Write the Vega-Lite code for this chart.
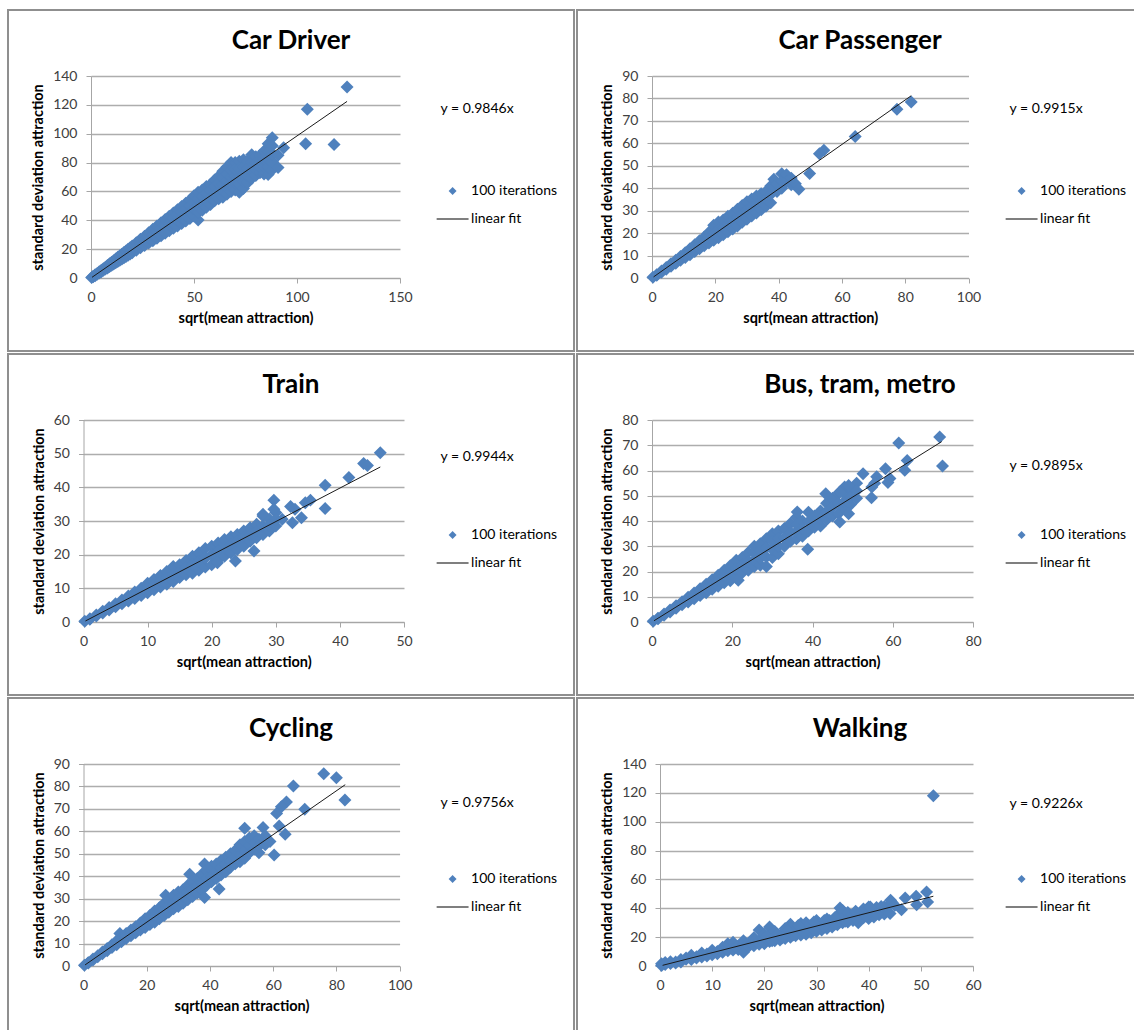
{
"$schema": "https://vega.github.io/schema/vega-lite/v6.json",
"padding": {"left": 7, "top": 9, "right": 0, "bottom": 0},
"background": "white",
"columns": 2,
"spacing": 1,
"datasets": {
"cd": [{"x":0.3,"y":0.3},{"x":1,"y":1},{"x":1,"y":0.8},{"x":2,"y":1.6},{"x":2,"y":2.2},{"x":3,"y":2.6},{"x":3,"y":3.2},{"x":4,"y":3.5},{"x":4,"y":4.3},{"x":5,"y":4.4},{"x":5,"y":5.4},{"x":6,"y":5.3},{"x":6,"y":6.4},{"x":7,"y":6.2},{"x":7,"y":7.5},{"x":8,"y":7},{"x":8,"y":8.6},{"x":9,"y":7.9},{"x":9,"y":9.8},{"x":10,"y":8.8},{"x":10,"y":10.9},{"x":11,"y":9.7},{"x":11,"y":12},{"x":12,"y":10.6},{"x":12,"y":13.2},{"x":13,"y":11.5},{"x":13,"y":14.3},{"x":14,"y":12.3},{"x":14,"y":15.4},{"x":15,"y":13.2},{"x":15,"y":16.5},{"x":16,"y":14},{"x":16,"y":17.6},{"x":17,"y":14.9},{"x":17,"y":18.8},{"x":18,"y":15.8},{"x":18,"y":19.9},{"x":19,"y":16.6},{"x":19,"y":21},{"x":20,"y":17.5},{"x":20,"y":22.2},{"x":20,"y":19.8},{"x":22,"y":19.2},{"x":22,"y":24.5},{"x":22,"y":21.8},{"x":24,"y":20.9},{"x":24,"y":26.8},{"x":24,"y":23.8},{"x":26,"y":22.6},{"x":26,"y":29},{"x":26,"y":25.8},{"x":28,"y":24.3},{"x":28,"y":31.4},{"x":28,"y":27.8},{"x":30,"y":25.9},{"x":30,"y":33.8},{"x":30,"y":29.8},{"x":32,"y":27.5},{"x":32,"y":36},{"x":32,"y":31.7},{"x":34,"y":29.3},{"x":34,"y":38.3},{"x":34,"y":33.8},{"x":36,"y":31},{"x":36,"y":40.6},{"x":36,"y":35.8},{"x":38,"y":32.7},{"x":38,"y":42.8},{"x":38,"y":37.7},{"x":40,"y":34.4},{"x":40,"y":45.1},{"x":40,"y":38},{"x":40,"y":41.5},{"x":42,"y":36},{"x":42,"y":47.3},{"x":42,"y":40},{"x":42,"y":43.6},{"x":44,"y":37.8},{"x":44,"y":49.5},{"x":44,"y":41.8},{"x":44,"y":45.6},{"x":46,"y":39.5},{"x":46,"y":51.8},{"x":46,"y":43.6},{"x":46,"y":47.7},{"x":48,"y":41.2},{"x":48,"y":54},{"x":48,"y":45.5},{"x":48,"y":49.8},{"x":50,"y":43},{"x":50,"y":57},{"x":50,"y":47.7},{"x":50,"y":52.3},{"x":52,"y":40.2},{"x":52,"y":59.5},{"x":52,"y":45.5},{"x":52,"y":50.5},{"x":52,"y":55},{"x":54,"y":47},{"x":54,"y":61},{"x":54,"y":51.7},{"x":54,"y":56.4},{"x":56,"y":49},{"x":56,"y":63.5},{"x":56,"y":53.8},{"x":56,"y":58.7},{"x":58,"y":51},{"x":58,"y":65},{"x":58,"y":55.7},{"x":58,"y":60.4},{"x":60,"y":53.5},{"x":60,"y":68},{"x":60,"y":58.3},{"x":60,"y":63.2},{"x":62,"y":55},{"x":62,"y":70.5},{"x":62,"y":60.2},{"x":62,"y":65.4},{"x":64,"y":56},{"x":64,"y":74},{"x":64,"y":60.5},{"x":64,"y":65},{"x":64,"y":69.5},{"x":66,"y":58},{"x":66,"y":77},{"x":66,"y":62.7},{"x":66,"y":67.5},{"x":66,"y":72.3},{"x":68,"y":60},{"x":68,"y":80},{"x":68,"y":65},{"x":68,"y":70},{"x":68,"y":75},{"x":70,"y":61},{"x":70,"y":80},{"x":70,"y":65.8},{"x":70,"y":70.5},{"x":70,"y":75.3},{"x":72,"y":59.5},{"x":72,"y":81},{"x":72,"y":64.9},{"x":72,"y":70.3},{"x":72,"y":75.7},{"x":74,"y":62},{"x":74,"y":82},{"x":74,"y":67},{"x":74,"y":72},{"x":74,"y":77},{"x":76,"y":66},{"x":76,"y":81},{"x":76,"y":71},{"x":76,"y":76},{"x":78,"y":69},{"x":78,"y":85.5},{"x":78,"y":74.5},{"x":78,"y":80},{"x":80,"y":71},{"x":80,"y":84},{"x":80,"y":75.3},{"x":80,"y":79.7},{"x":82,"y":73},{"x":82,"y":85},{"x":82,"y":77},{"x":82,"y":81},{"x":84,"y":72},{"x":84,"y":88},{"x":84,"y":77.3},{"x":84,"y":82.7},{"x":86,"y":71.8},{"x":86,"y":93},{"x":86,"y":77},{"x":86,"y":82.4},{"x":86,"y":87.7},{"x":88,"y":75},{"x":88,"y":97.2},{"x":88,"y":80.5},{"x":88,"y":86},{"x":88,"y":91.6},{"x":90.8,"y":76.5},{"x":90.8,"y":85},{"x":93.5,"y":90.3},{"x":104.2,"y":93.1},{"x":105,"y":116.9},{"x":118,"y":92.6},{"x":124.3,"y":132.4}],
"cd_fit": [{"x":0.5,"y":0.49},{"x":124.3,"y":122.39}],
"cp": [{"x":0.3,"y":0.3},{"x":1.5,"y":1.5},{"x":1.5,"y":1.2},{"x":3,"y":3.1},{"x":3,"y":2.6},{"x":4.5,"y":4.7},{"x":4.5,"y":3.9},{"x":6,"y":6.3},{"x":6,"y":5.2},{"x":7.5,"y":7.9},{"x":7.5,"y":6.6},{"x":9,"y":9.6},{"x":9,"y":7.9},{"x":9,"y":8.8},{"x":10.5,"y":11.3},{"x":10.5,"y":9.1},{"x":10.5,"y":10.2},{"x":12,"y":13},{"x":12,"y":10.4},{"x":12,"y":11.7},{"x":13.5,"y":14.8},{"x":13.5,"y":11.8},{"x":13.5,"y":13.3},{"x":15,"y":16.6},{"x":15,"y":13},{"x":15,"y":14.8},{"x":16.5,"y":18.3},{"x":16.5,"y":14.4},{"x":16.5,"y":16.3},{"x":18,"y":20.4},{"x":18,"y":15.6},{"x":18,"y":18},{"x":19.5,"y":23.5},{"x":19.5,"y":16.8},{"x":19.5,"y":20.1},{"x":21,"y":25},{"x":21,"y":17.9},{"x":21,"y":21.4},{"x":22.5,"y":25.8},{"x":22.5,"y":19.3},{"x":22.5,"y":22.5},{"x":24,"y":27.5},{"x":24,"y":20.6},{"x":24,"y":24},{"x":25.5,"y":28.8},{"x":25.5,"y":21.8},{"x":25.5,"y":25.3},{"x":27,"y":30.6},{"x":27,"y":23.2},{"x":27,"y":26.9},{"x":28.5,"y":32.3},{"x":28.5,"y":24.8},{"x":28.5,"y":28.5},{"x":30,"y":34},{"x":30,"y":26.2},{"x":30,"y":30.1},{"x":31.5,"y":35.2},{"x":31.5,"y":27.6},{"x":31.5,"y":31.4},{"x":33,"y":36.5},{"x":33,"y":29},{"x":33,"y":32.7},{"x":34.5,"y":37.5},{"x":34.5,"y":30.4},{"x":34.5,"y":34},{"x":36,"y":38.5},{"x":36,"y":32},{"x":36,"y":35.3},{"x":37.5,"y":41},{"x":37.5,"y":33.5},{"x":37.5,"y":37.2},{"x":38.5,"y":44},{"x":38.5,"y":40.5},{"x":39.5,"y":38.5},{"x":39.5,"y":42},{"x":41,"y":46.5},{"x":41,"y":40},{"x":41,"y":43.2},{"x":42.5,"y":46},{"x":42.5,"y":43},{"x":44,"y":44.5},{"x":44,"y":41.5},{"x":45.3,"y":42},{"x":46.4,"y":39.5},{"x":49.8,"y":46.6},{"x":52.9,"y":55.4},{"x":54.3,"y":56.9},{"x":64.2,"y":63},{"x":77.4,"y":75.2},{"x":81.9,"y":78.4}],
"cp_fit": [{"x":0.5,"y":0.5},{"x":81.9,"y":81.2}],
"tr": [{"x":0.2,"y":0.2},{"x":1,"y":1},{"x":1,"y":0.8},{"x":2,"y":2.1},{"x":2,"y":1.8},{"x":3,"y":3.2},{"x":3,"y":2.7},{"x":4,"y":4.3},{"x":4,"y":3.6},{"x":5,"y":5.4},{"x":5,"y":4.5},{"x":6,"y":6.5},{"x":6,"y":5.4},{"x":6,"y":6},{"x":7,"y":7.7},{"x":7,"y":6.2},{"x":7,"y":7},{"x":8,"y":8.9},{"x":8,"y":7},{"x":8,"y":8},{"x":9,"y":10},{"x":9,"y":7.9},{"x":9,"y":9},{"x":10,"y":11.5},{"x":10,"y":8.7},{"x":10,"y":10},{"x":11,"y":12.6},{"x":11,"y":9.6},{"x":11,"y":11},{"x":12,"y":13.8},{"x":12,"y":10.4},{"x":12,"y":12},{"x":13,"y":15},{"x":13,"y":11.2},{"x":13,"y":13},{"x":14,"y":16.5},{"x":14,"y":12},{"x":14,"y":14.2},{"x":15,"y":17},{"x":15,"y":13.2},{"x":15,"y":15},{"x":16,"y":18.3},{"x":16,"y":14},{"x":16,"y":16},{"x":17,"y":19.5},{"x":17,"y":14.5},{"x":17,"y":17},{"x":18,"y":20.6},{"x":18,"y":15.4},{"x":18,"y":18},{"x":19,"y":21.8},{"x":19,"y":16.3},{"x":19,"y":19},{"x":20,"y":22.5},{"x":20,"y":17},{"x":20,"y":20},{"x":21,"y":23.5},{"x":21,"y":18.5},{"x":21,"y":21},{"x":22,"y":24.5},{"x":22,"y":19.5},{"x":22,"y":22},{"x":23,"y":25.3},{"x":23,"y":20.5},{"x":23,"y":23},{"x":24,"y":26},{"x":24,"y":21.5},{"x":24,"y":24},{"x":25,"y":27},{"x":25,"y":22.5},{"x":25,"y":25},{"x":26,"y":28},{"x":26,"y":24},{"x":26,"y":26},{"x":27,"y":29},{"x":27,"y":25},{"x":27,"y":27},{"x":28,"y":31.5},{"x":28,"y":26},{"x":28,"y":28.5},{"x":29,"y":30.5},{"x":29,"y":27},{"x":29,"y":28.8},{"x":30,"y":32.5},{"x":30,"y":28.5},{"x":30,"y":30.5},{"x":26.6,"y":21.1},{"x":23.7,"y":18.1},{"x":20.9,"y":17.6},{"x":28,"y":32},{"x":29.7,"y":36.2},{"x":29.7,"y":33.5},{"x":32.3,"y":34.3},{"x":32.6,"y":29.5},{"x":34,"y":31},{"x":34.6,"y":35.4},{"x":35.4,"y":36.2},{"x":37.7,"y":33.7},{"x":37.7,"y":40.6},{"x":41.4,"y":42.9},{"x":43.7,"y":47.1},{"x":44.3,"y":46.5},{"x":46.3,"y":50.3},{"x":33,"y":33.5},{"x":31,"y":30.5}],
"tr_fit": [{"x":0.3,"y":0.3},{"x":46.3,"y":46.04}],
"bu": [{"x":0.3,"y":0.3},{"x":1.5,"y":1.5},{"x":1.5,"y":1.3},{"x":3,"y":3.2},{"x":3,"y":2.7},{"x":4.5,"y":4.8},{"x":4.5,"y":4},{"x":6,"y":6.4},{"x":6,"y":5.4},{"x":7.5,"y":8},{"x":7.5,"y":6.8},{"x":9,"y":9.8},{"x":9,"y":7.9},{"x":9,"y":8.9},{"x":10.5,"y":11.5},{"x":10.5,"y":9.2},{"x":10.5,"y":10.4},{"x":12,"y":13.2},{"x":12,"y":10.5},{"x":12,"y":11.9},{"x":13.5,"y":15},{"x":13.5,"y":11.6},{"x":13.5,"y":13.3},{"x":15,"y":16.7},{"x":15,"y":13},{"x":15,"y":14.9},{"x":16.5,"y":18.5},{"x":16.5,"y":14.2},{"x":16.5,"y":16.4},{"x":18,"y":20.5},{"x":18,"y":15.5},{"x":18,"y":18},{"x":19.5,"y":22.3},{"x":19.5,"y":16.3},{"x":19.5,"y":19.3},{"x":21,"y":24.5},{"x":21,"y":17.5},{"x":21,"y":21},{"x":21.5,"y":16.5},{"x":22.5,"y":25.5},{"x":22.5,"y":19.5},{"x":22.5,"y":22.5},{"x":24,"y":27.5},{"x":24,"y":20.5},{"x":24,"y":24},{"x":25.5,"y":30},{"x":25.5,"y":22},{"x":25.5,"y":24.7},{"x":25.5,"y":27.4},{"x":27,"y":31},{"x":27,"y":22.5},{"x":27,"y":25.3},{"x":27,"y":28.2},{"x":28.5,"y":33},{"x":28.5,"y":22},{"x":28.5,"y":25.7},{"x":28.5,"y":29.4},{"x":30,"y":35},{"x":30,"y":25.5},{"x":30,"y":28.7},{"x":30,"y":31.9},{"x":31.5,"y":36},{"x":31.5,"y":27},{"x":31.5,"y":30},{"x":31.5,"y":33},{"x":33,"y":37},{"x":33,"y":30},{"x":33,"y":33.5},{"x":34.5,"y":39},{"x":34.5,"y":32},{"x":34.5,"y":35.5},{"x":36,"y":41.5},{"x":36,"y":33},{"x":36,"y":35.8},{"x":36,"y":38.7},{"x":37.5,"y":40},{"x":37.5,"y":34},{"x":37.5,"y":37},{"x":39,"y":43.5},{"x":39,"y":36},{"x":39,"y":39.7},{"x":40.5,"y":42},{"x":40.5,"y":37.5},{"x":40.5,"y":39.8},{"x":42,"y":44},{"x":42,"y":38},{"x":42,"y":41},{"x":43.5,"y":47},{"x":43.5,"y":40.5},{"x":43.5,"y":43.7},{"x":45,"y":49},{"x":45,"y":42},{"x":45,"y":45.5},{"x":46.5,"y":51},{"x":46.5,"y":43},{"x":46.5,"y":47},{"x":48,"y":53.5},{"x":48,"y":45},{"x":48,"y":47.8},{"x":48,"y":50.6},{"x":49.5,"y":52.5},{"x":49.5,"y":46.5},{"x":49.5,"y":49.5},{"x":51,"y":55},{"x":51,"y":49},{"x":51,"y":52},{"x":71.7,"y":73.3},{"x":72.4,"y":61.8},{"x":61.5,"y":70.9},{"x":63.6,"y":64},{"x":63,"y":60.1},{"x":58.2,"y":60.7},{"x":59.3,"y":56.8},{"x":58.8,"y":55.2},{"x":52.6,"y":58.7},{"x":54.7,"y":49.2},{"x":54.8,"y":53.5},{"x":49,"y":54.1},{"x":49,"y":42.9},{"x":46.8,"y":39.6},{"x":38.8,"y":28.8},{"x":46.8,"y":51.5},{"x":43.3,"y":50.8},{"x":36.2,"y":43.6},{"x":56,"y":57.5},{"x":55.5,"y":55}],
"bu_fit": [{"x":0.5,"y":0.49},{"x":72.2,"y":71.44}],
"cy": [{"x":0.3,"y":0.3},{"x":1.5,"y":1.5},{"x":1.5,"y":1.3},{"x":3,"y":3.1},{"x":3,"y":2.7},{"x":4.5,"y":4.6},{"x":4.5,"y":4.1},{"x":6,"y":6.2},{"x":6,"y":5.5},{"x":7.5,"y":7.8},{"x":7.5,"y":6.8},{"x":9,"y":9.5},{"x":9,"y":8.2},{"x":9,"y":8.9},{"x":10.5,"y":11.3},{"x":10.5,"y":9.5},{"x":10.5,"y":10.3},{"x":11.5,"y":14.5},{"x":12,"y":12.8},{"x":12,"y":10.8},{"x":12,"y":11.8},{"x":13.5,"y":14.5},{"x":13.5,"y":12.3},{"x":13.5,"y":13.2},{"x":15,"y":16},{"x":15,"y":13.5},{"x":15,"y":14.7},{"x":16.5,"y":17.5},{"x":16.5,"y":14.8},{"x":16.5,"y":16.2},{"x":18,"y":19.2},{"x":18,"y":16},{"x":18,"y":17.6},{"x":19.5,"y":21},{"x":19.5,"y":17.2},{"x":19.5,"y":19},{"x":21,"y":22.5},{"x":21,"y":18.5},{"x":21,"y":20.5},{"x":22.5,"y":24.5},{"x":22.5,"y":19.5},{"x":22.5,"y":22},{"x":24,"y":26},{"x":24,"y":21},{"x":24,"y":23.5},{"x":25.5,"y":28},{"x":25.5,"y":22.5},{"x":25.5,"y":25},{"x":26,"y":31.5},{"x":27,"y":29.5},{"x":27,"y":24},{"x":27,"y":26.7},{"x":28.5,"y":31.5},{"x":28.5,"y":25.5},{"x":28.5,"y":28},{"x":30,"y":33},{"x":30,"y":26.5},{"x":30,"y":29.7},{"x":31.5,"y":34},{"x":31.5,"y":28},{"x":31.5,"y":31},{"x":33,"y":36},{"x":33,"y":29.5},{"x":33,"y":32.7},{"x":33.6,"y":40.9},{"x":34.5,"y":37.5},{"x":34.5,"y":31},{"x":34.5,"y":34},{"x":36,"y":39},{"x":36,"y":32.5},{"x":36,"y":35.7},{"x":37.5,"y":41},{"x":37.5,"y":34},{"x":37.5,"y":37},{"x":38.3,"y":45.4},{"x":38.3,"y":30.5},{"x":39,"y":42.5},{"x":39,"y":36},{"x":39,"y":39.2},{"x":40.5,"y":44.5},{"x":40.5,"y":37.5},{"x":40.5,"y":40},{"x":42,"y":45.5},{"x":42,"y":39},{"x":42,"y":42.2},{"x":42.9,"y":34.3},{"x":43.5,"y":47},{"x":43.5,"y":40.5},{"x":43.5,"y":43.5},{"x":45,"y":48.5},{"x":45,"y":42},{"x":45,"y":45.2},{"x":46.5,"y":50},{"x":46.5,"y":44},{"x":46.5,"y":46.5},{"x":48,"y":51.5},{"x":48,"y":45.5},{"x":48,"y":48.5},{"x":49.5,"y":54},{"x":49.5,"y":46.5},{"x":49.5,"y":49.5},{"x":51,"y":61.4},{"x":51,"y":55.5},{"x":51,"y":48},{"x":51,"y":51.5},{"x":52.5,"y":57},{"x":52.5,"y":50.5},{"x":52.5,"y":53.7},{"x":54,"y":58},{"x":54,"y":52},{"x":54,"y":55},{"x":55.5,"y":56.5},{"x":55.5,"y":50.5},{"x":55.5,"y":53.5},{"x":56.8,"y":61.7},{"x":57.5,"y":58},{"x":57.5,"y":54},{"x":76,"y":85.7},{"x":80,"y":83.9},{"x":82.7,"y":74},{"x":66.4,"y":80.2},{"x":70,"y":69.8},{"x":64.2,"y":73.1},{"x":62.6,"y":71},{"x":61.1,"y":68},{"x":61.9,"y":62.4},{"x":63.8,"y":58.7},{"x":60.3,"y":49.5},{"x":59,"y":55.5}],
"cy_fit": [{"x":0.5,"y":0.49},{"x":82.8,"y":80.78}],
"wa": [{"x":0.3,"y":0.3},{"x":0.3,"y":1.5},{"x":1,"y":1},{"x":1,"y":2.5},{"x":2,"y":1.8},{"x":2,"y":3},{"x":3,"y":2.8},{"x":3,"y":2},{"x":4,"y":3.7},{"x":4,"y":4.5},{"x":4,"y":2.8},{"x":5,"y":4.6},{"x":5,"y":5.5},{"x":6,"y":5.5},{"x":6,"y":7.5},{"x":6,"y":4.5},{"x":7,"y":6.5},{"x":7,"y":5.5},{"x":8,"y":7.4},{"x":8,"y":9},{"x":8,"y":6.3},{"x":9,"y":8.3},{"x":9,"y":7},{"x":10,"y":9.2},{"x":10,"y":11},{"x":10,"y":7.8},{"x":11,"y":10.1},{"x":11,"y":8.5},{"x":12,"y":11.1},{"x":12,"y":13},{"x":12,"y":9.5},{"x":13,"y":12},{"x":13,"y":15.5},{"x":13,"y":10.5},{"x":14,"y":12.9},{"x":14,"y":16.5},{"x":14,"y":11},{"x":15,"y":13.8},{"x":15,"y":11.5},{"x":16,"y":14.8},{"x":16,"y":17.5},{"x":16,"y":9.5},{"x":17,"y":15.7},{"x":17,"y":13.5},{"x":18,"y":16.6},{"x":18,"y":19.5},{"x":18,"y":14},{"x":19,"y":17.5},{"x":19,"y":25},{"x":19,"y":15},{"x":20,"y":18.5},{"x":20,"y":22},{"x":20,"y":15.5},{"x":21,"y":19.4},{"x":21,"y":27},{"x":21,"y":17},{"x":22,"y":20.3},{"x":22,"y":24},{"x":22,"y":17.5},{"x":23,"y":21.2},{"x":23,"y":18},{"x":24,"y":22.1},{"x":24,"y":26},{"x":24,"y":19},{"x":25,"y":23},{"x":25,"y":29},{"x":25,"y":20},{"x":26,"y":24},{"x":26,"y":21},{"x":27,"y":24.9},{"x":27,"y":29.5},{"x":27,"y":21.5},{"x":28,"y":25.8},{"x":28,"y":30},{"x":28,"y":22},{"x":29,"y":26.8},{"x":29,"y":23},{"x":30,"y":27.7},{"x":30,"y":31.5},{"x":30,"y":24},{"x":31,"y":28.6},{"x":31,"y":25},{"x":32,"y":29.5},{"x":32,"y":32.5},{"x":32,"y":26},{"x":33,"y":30.4},{"x":33,"y":27},{"x":34,"y":31.4},{"x":34,"y":35},{"x":34,"y":28.5},{"x":35,"y":32.3},{"x":35,"y":38.5},{"x":35,"y":30},{"x":36,"y":33.2},{"x":36,"y":37},{"x":36,"y":30.5},{"x":37,"y":34.1},{"x":37,"y":31.5},{"x":38,"y":35.1},{"x":38,"y":30},{"x":39,"y":36},{"x":39,"y":39.5},{"x":39,"y":33.5},{"x":40,"y":36.9},{"x":40,"y":40.9},{"x":40,"y":33},{"x":41,"y":37.8},{"x":41,"y":34},{"x":42,"y":38.7},{"x":42,"y":35.5},{"x":43,"y":39.7},{"x":43,"y":41},{"x":43,"y":36},{"x":20.5,"y":20.5},{"x":22.5,"y":22},{"x":24.5,"y":24.5},{"x":26.5,"y":26.5},{"x":28.5,"y":28},{"x":30.5,"y":29.5},{"x":32.5,"y":31.5},{"x":34.5,"y":33.5},{"x":36.5,"y":35},{"x":38.5,"y":36.5},{"x":40.5,"y":38},{"x":42.5,"y":39.5},{"x":21.5,"y":17.5},{"x":23.5,"y":19.5},{"x":25.5,"y":21.5},{"x":27.5,"y":23.5},{"x":29.5,"y":25},{"x":31.5,"y":27},{"x":33.5,"y":29},{"x":35.5,"y":31},{"x":37.5,"y":32.5},{"x":39.5,"y":34.5},{"x":41.5,"y":36},{"x":26.5,"y":28},{"x":29.5,"y":30.5},{"x":31.5,"y":31.5},{"x":33.5,"y":33.5},{"x":37.5,"y":38},{"x":41.5,"y":40.5},{"x":44.5,"y":44},{"x":52.4,"y":118},{"x":51.1,"y":51.3},{"x":51.3,"y":44.4},{"x":49.2,"y":42.5},{"x":49.1,"y":48.3},{"x":47,"y":47.1},{"x":46.3,"y":39},{"x":44.2,"y":45.5},{"x":44.1,"y":36.3},{"x":42.4,"y":41.3},{"x":40.3,"y":40.9},{"x":34.5,"y":40.2},{"x":45,"y":42}],
"wa_fit": [{"x":0.5,"y":0.46},{"x":52.4,"y":48.34}]
},
"concat": [
{"width": 566, "height": 341, "title": {"text": "Car Driver", "offset": -44},
 "encoding": {
  "x": {"field": "x", "type": "quantitative", "scale": {"domain": [0,150], "range": [83,392], "nice": false}, "axis": {"values": [0,50,100,150], "offset": -73, "title": "sqrt(mean attraction)"}},
  "y": {"field": "y", "type": "quantitative", "scale": {"domain": [0,140], "range": [268,66], "nice": false}, "axis": {"values": [0,20,40,60,80,100,120,140], "offset": -83, "title": "standard deviation attraction"}}},
 "layer": [
  {"data": {"name": "cd"}, "mark": {"type": "point", "filled": true, "size": 1550, "opacity": 1},
   "encoding": {
    "color": {"datum": "100 iterations", "scale": {"domain": ["100 iterations","linear fit"], "range": ["#4F81BD","#000000"]}, "legend": {"title": "y = 0.9846x", "legendX": 432.6, "legendY": 92, "titlePadding": 63}},
    "shape": {"datum": "100 iterations", "scale": {"domain": ["100 iterations","linear fit"], "range": ["M-0.33,0L0,-0.33L0.33,0L0,0.33Z","M-1.33,-0.045H1.33V0.045H-1.33Z"]}, "legend": {"title": "y = 0.9846x", "legendX": 432.6, "legendY": 92, "titlePadding": 63}}}},
  {"data": {"name": "cd_fit"}, "mark": {"type": "line", "color": "#1a1a1a", "strokeWidth": 1}, "encoding": {}}
 ]},
{"width": 566, "height": 341, "title": {"text": "Car Passenger", "offset": -44},
 "encoding": {
  "x": {"field": "x", "type": "quantitative", "scale": {"domain": [0,100], "range": [75,391.5], "nice": false}, "axis": {"values": [0,20,40,60,80,100], "offset": -73, "title": "sqrt(mean attraction)"}},
  "y": {"field": "y", "type": "quantitative", "scale": {"domain": [0,90], "range": [268,66], "nice": false}, "axis": {"values": [0,10,20,30,40,50,60,70,80,90], "offset": -75, "title": "standard deviation attraction"}}},
 "layer": [
  {"data": {"name": "cp"}, "mark": {"type": "point", "filled": true, "size": 1550, "opacity": 1},
   "encoding": {
    "color": {"datum": "100 iterations", "scale": {"domain": ["100 iterations","linear fit"], "range": ["#4F81BD","#000000"]}, "legend": {"title": "y = 0.9915x", "legendX": 432.6, "legendY": 92, "titlePadding": 63}},
    "shape": {"datum": "100 iterations", "scale": {"domain": ["100 iterations","linear fit"], "range": ["M-0.33,0L0,-0.33L0.33,0L0,0.33Z","M-1.33,-0.045H1.33V0.045H-1.33Z"]}, "legend": {"title": "y = 0.9915x", "legendX": 432.6, "legendY": 92, "titlePadding": 63}}}},
  {"data": {"name": "cp_fit"}, "mark": {"type": "line", "color": "#1a1a1a", "strokeWidth": 1}, "encoding": {}}
 ]},
{"width": 566, "height": 341, "title": {"text": "Train", "offset": -44},
 "encoding": {
  "x": {"field": "x", "type": "quantitative", "scale": {"domain": [0,50], "range": [75.5,396], "nice": false}, "axis": {"values": [0,10,20,30,40,50], "offset": -73, "title": "sqrt(mean attraction)"}},
  "y": {"field": "y", "type": "quantitative", "scale": {"domain": [0,60], "range": [268,66], "nice": false}, "axis": {"values": [0,10,20,30,40,50,60], "offset": -75.5, "title": "standard deviation attraction"}}},
 "layer": [
  {"data": {"name": "tr"}, "mark": {"type": "point", "filled": true, "size": 1550, "opacity": 1},
   "encoding": {
    "color": {"datum": "100 iterations", "scale": {"domain": ["100 iterations","linear fit"], "range": ["#4F81BD","#000000"]}, "legend": {"title": "y = 0.9944x", "legendX": 432.6, "legendY": 96, "titlePadding": 59}},
    "shape": {"datum": "100 iterations", "scale": {"domain": ["100 iterations","linear fit"], "range": ["M-0.33,0L0,-0.33L0.33,0L0,0.33Z","M-1.33,-0.045H1.33V0.045H-1.33Z"]}, "legend": {"title": "y = 0.9944x", "legendX": 432.6, "legendY": 96, "titlePadding": 59}}}},
  {"data": {"name": "tr_fit"}, "mark": {"type": "line", "color": "#1a1a1a", "strokeWidth": 1}, "encoding": {}}
 ]},
{"width": 566, "height": 341, "title": {"text": "Bus, tram, metro", "offset": -44},
 "encoding": {
  "x": {"field": "x", "type": "quantitative", "scale": {"domain": [0,80], "range": [75,396], "nice": false}, "axis": {"values": [0,20,40,60,80], "offset": -73, "title": "sqrt(mean attraction)"}},
  "y": {"field": "y", "type": "quantitative", "scale": {"domain": [0,80], "range": [268,66], "nice": false}, "axis": {"values": [0,10,20,30,40,50,60,70,80], "offset": -75, "title": "standard deviation attraction"}}},
 "layer": [
  {"data": {"name": "bu"}, "mark": {"type": "point", "filled": true, "size": 1550, "opacity": 1},
   "encoding": {
    "color": {"datum": "100 iterations", "scale": {"domain": ["100 iterations","linear fit"], "range": ["#4F81BD","#000000"]}, "legend": {"title": "y = 0.9895x", "legendX": 432.6, "legendY": 105, "titlePadding": 50}},
    "shape": {"datum": "100 iterations", "scale": {"domain": ["100 iterations","linear fit"], "range": ["M-0.33,0L0,-0.33L0.33,0L0,0.33Z","M-1.33,-0.045H1.33V0.045H-1.33Z"]}, "legend": {"title": "y = 0.9895x", "legendX": 432.6, "legendY": 105, "titlePadding": 50}}}},
  {"data": {"name": "bu_fit"}, "mark": {"type": "line", "color": "#1a1a1a", "strokeWidth": 1}, "encoding": {}}
 ]},
{"width": 566, "height": 341, "title": {"text": "Cycling", "offset": -44},
 "encoding": {
  "x": {"field": "x", "type": "quantitative", "scale": {"domain": [0,100], "range": [75.5,391.6], "nice": false}, "axis": {"values": [0,20,40,60,80,100], "offset": -73, "title": "sqrt(mean attraction)"}},
  "y": {"field": "y", "type": "quantitative", "scale": {"domain": [0,90], "range": [268,66], "nice": false}, "axis": {"values": [0,10,20,30,40,50,60,70,80,90], "offset": -75.5, "title": "standard deviation attraction"}}},
 "layer": [
  {"data": {"name": "cy"}, "mark": {"type": "point", "filled": true, "size": 1550, "opacity": 1},
   "encoding": {
    "color": {"datum": "100 iterations", "scale": {"domain": ["100 iterations","linear fit"], "range": ["#4F81BD","#000000"]}, "legend": {"title": "y = 0.9756x", "legendX": 432.6, "legendY": 98, "titlePadding": 57}},
    "shape": {"datum": "100 iterations", "scale": {"domain": ["100 iterations","linear fit"], "range": ["M-0.33,0L0,-0.33L0.33,0L0,0.33Z","M-1.33,-0.045H1.33V0.045H-1.33Z"]}, "legend": {"title": "y = 0.9756x", "legendX": 432.6, "legendY": 98, "titlePadding": 57}}}},
  {"data": {"name": "cy_fit"}, "mark": {"type": "line", "color": "#1a1a1a", "strokeWidth": 1}, "encoding": {}}
 ]},
{"width": 566, "height": 341, "title": {"text": "Walking", "offset": -44},
 "encoding": {
  "x": {"field": "x", "type": "quantitative", "scale": {"domain": [0,60], "range": [83,396], "nice": false}, "axis": {"values": [0,10,20,30,40,50,60], "offset": -73, "title": "sqrt(mean attraction)"}},
  "y": {"field": "y", "type": "quantitative", "scale": {"domain": [0,140], "range": [268,66], "nice": false}, "axis": {"values": [0,20,40,60,80,100,120,140], "offset": -83, "title": "standard deviation attraction"}}},
 "layer": [
  {"data": {"name": "wa"}, "mark": {"type": "point", "filled": true, "size": 1550, "opacity": 1},
   "encoding": {
    "color": {"datum": "100 iterations", "scale": {"domain": ["100 iterations","linear fit"], "range": ["#4F81BD","#000000"]}, "legend": {"title": "y = 0.9226x", "legendX": 432.6, "legendY": 99, "titlePadding": 56}},
    "shape": {"datum": "100 iterations", "scale": {"domain": ["100 iterations","linear fit"], "range": ["M-0.33,0L0,-0.33L0.33,0L0,0.33Z","M-1.33,-0.045H1.33V0.045H-1.33Z"]}, "legend": {"title": "y = 0.9226x", "legendX": 432.6, "legendY": 99, "titlePadding": 56}}}},
  {"data": {"name": "wa_fit"}, "mark": {"type": "line", "color": "#1a1a1a", "strokeWidth": 1}, "encoding": {}}
 ]}
],
"resolve": {"scale": {"color": "independent", "shape": "independent"}, "legend": {"color": "independent", "shape": "independent"}},
"config": {
 "font": "Lato",
 "view": {"stroke": "#8f8f8f", "strokeWidth": 2},
 "title": {"font": "Lato", "fontSize": 26, "fontWeight": "bold", "color": "#000000", "anchor": "middle"},
 "axis": {"labelFont": "Lato", "labelFontSize": 14, "labelColor": "#404040", "titleFont": "Lato", "titleFontSize": 14.5, "titleFontWeight": "bold", "titleColor": "#000000", "domainColor": "#a6a6a6", "domainWidth": 1, "tickColor": "#a6a6a6", "tickSize": 5, "gridColor": "#adadad", "gridWidth": 1.3, "labelPadding": 8, "titlePadding": 7, "labelOverlap": false},
 "axisX": {"grid": false, "labelFlush": false, "labelPadding": 7, "titlePadding": 7},
 "axisY": {"grid": true, "labelPadding": 9},
 "legend": {"orient": "none", "padding": 0, "titleFont": "Lato", "titleFontSize": 14, "titleFontWeight": "normal", "titleColor": "#000000", "labelFont": "Lato", "labelFontSize": 14, "labelColor": "#000000", "symbolSize": 576, "symbolStrokeWidth": 0, "labelOffset": 6.5, "rowPadding": 9}
}
}
